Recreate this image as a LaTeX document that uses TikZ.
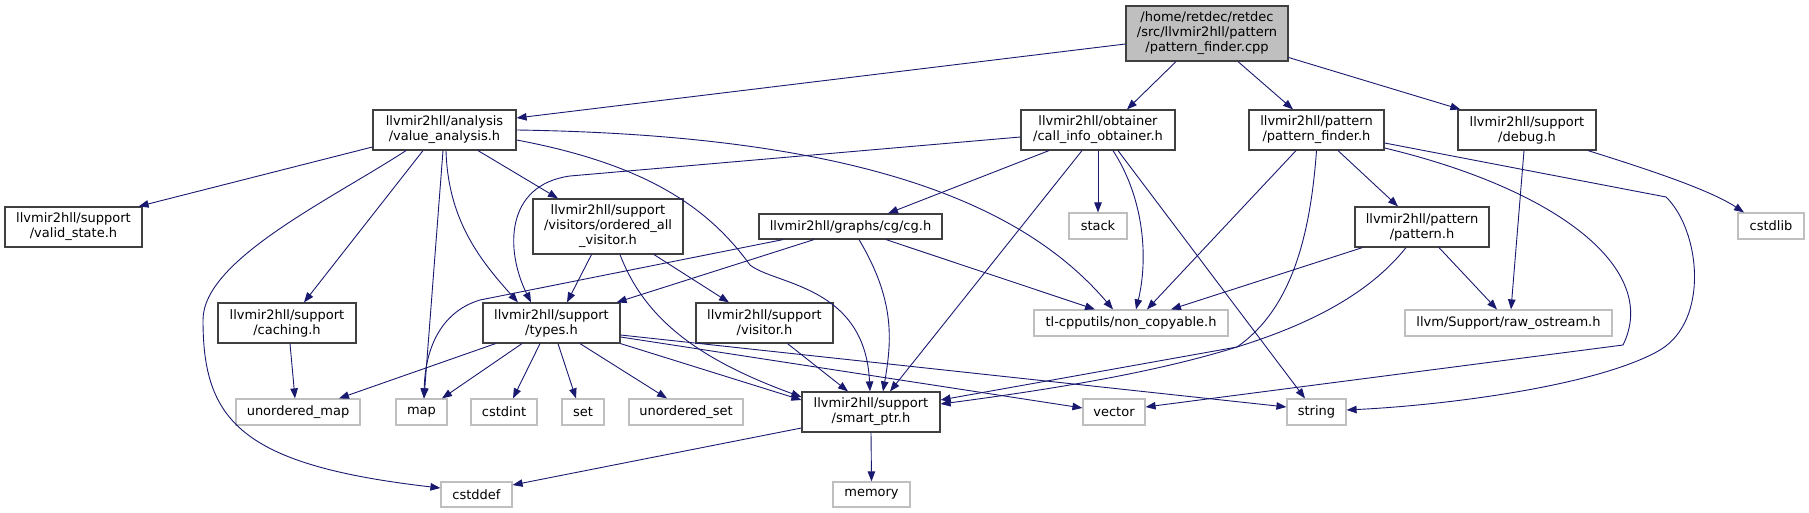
\documentclass[tikz,border=0pt]{standalone}
\usepackage{fontspec}
\setmainfont{DejaVu Sans}
\usetikzlibrary{arrows.meta}
\definecolor{edgeblue}{HTML}{191970}
\definecolor{extgray}{HTML}{BFBFBF}
\definecolor{rootfill}{HTML}{BFBFBF}
\definecolor{boxline}{HTML}{404040}
\tikzset{
 box/.style={draw=boxline, line width=1.2pt, fill=white, inner sep=0pt, align=center, font=\fontsize{13}{15}\selectfont, text=black},
 ext/.style={box, draw=extgray},
 e/.style={draw=edgeblue, line width=0.9pt, -{Triangle[length=10pt,width=7.5pt,fill=edgeblue]}},
}
\begin{document}
\begin{tikzpicture}[x=1pt,y=-1pt]
\useasboundingbox (0,0) rectangle (1809,513);
% nodes
\node[box, fill=rootfill, minimum width=162pt, minimum height=55pt] (root) at (1207,33.5) {/home/retdec/retdec\\/src/llvmir2hll/pattern\\/pattern\_finder.cpp};
\node[box, minimum width=143pt, minimum height=40pt] (va) at (444.5,130) {llvmir2hll/analysis\\/value\_analysis.h};
\node[box, minimum width=154pt, minimum height=40pt] (cio) at (1098,130) {llvmir2hll/obtainer\\/call\_info\_obtainer.h};
\node[box, minimum width=135pt, minimum height=40pt] (pfh) at (1316.5,130) {llvmir2hll/pattern\\/pattern\_finder.h};
\node[box, minimum width=138pt, minimum height=40pt] (debug) at (1527,130) {llvmir2hll/support\\/debug.h};
\node[box, minimum width=137pt, minimum height=40pt] (valid) at (73.5,227) {llvmir2hll/support\\/valid\_state.h};
\node[box, minimum width=150pt, minimum height=55pt] (oav) at (608,226.5) {llvmir2hll/support\\/visitors/ordered\_all\\\_visitor.h};
\node[box, minimum width=183pt, minimum height=25pt] (cg) at (850.5,226.5) {llvmir2hll/graphs/cg/cg.h};
\node[ext, minimum width=58pt, minimum height=26pt] (stack) at (1098,226) {stack};
\node[box, minimum width=134pt, minimum height=40pt] (pattern) at (1422,227) {llvmir2hll/pattern\\/pattern.h};
\node[ext, minimum width=66pt, minimum height=26pt] (cstdlib) at (1771,226) {cstdlib};
\node[box, minimum width=138pt, minimum height=40pt] (caching) at (287,323) {llvmir2hll/support\\/caching.h};
\node[box, minimum width=137pt, minimum height=40pt] (types) at (551.5,323) {llvmir2hll/support\\/types.h};
\node[box, minimum width=137pt, minimum height=40pt] (visitor) at (764.5,323) {llvmir2hll/support\\/visitor.h};
\node[ext, minimum width=194pt, minimum height=26pt] (noncopy) at (1131,323) {tl-cpputils/non\_copyable.h};
\node[ext, minimum width=207pt, minimum height=26pt] (raw) at (1508.5,323) {llvm/Support/raw\_ostream.h};
\node[ext, minimum width=124pt, minimum height=26pt] (umap) at (298,412) {unordered\_map};
\node[ext, minimum width=51pt, minimum height=26pt] (map) at (421.5,412) {map};
\node[ext, minimum width=66pt, minimum height=26pt] (cstdint) at (504,412) {cstdint};
\node[ext, minimum width=42pt, minimum height=26pt] (set) at (583,412) {set};
\node[ext, minimum width=114pt, minimum height=26pt] (uset) at (686,412) {unordered\_set};
\node[box, minimum width=138pt, minimum height=40pt] (smart) at (871,412) {llvmir2hll/support\\/smart\_ptr.h};
\node[ext, minimum width=62pt, minimum height=26pt] (vector) at (1114,412) {vector};
\node[ext, minimum width=59pt, minimum height=26pt] (string) at (1316.5,412) {string};
\node[ext, minimum width=71pt, minimum height=25pt] (cstddef) at (476.5,494.5) {cstddef};
\node[ext, minimum width=77pt, minimum height=25pt] (memory) at (871.5,494.5) {memory};
% root edges
\draw[e] ([yshift=-10.5pt]root.west) -- ([yshift=12pt]va.east);
\draw[e] ([xshift=-31pt]root.south) -- ([xshift=29pt]cio.north);
\draw[e] ([xshift=31pt]root.south) -- ([xshift=-23.5pt]pfh.north);
\draw[e] ([yshift=-24pt]root.east) -- ([xshift=3pt]debug.north west);
% value_analysis edges
\draw[e] ([yshift=-17pt]va.west) -- ([xshift=-4pt]valid.north east);
\draw[e] ([xshift=-38.5pt]va.south) .. controls (330,200) and (203,260) .. (203,320) .. controls (203,420) and (240,465) .. ([yshift=6.5pt]cstddef.west);
\draw[e] ([xshift=-21.5pt]va.south) -- ([xshift=17pt]caching.north);
\draw[e] ([xshift=-1.5pt]va.south) -- ([xshift=2.5pt]map.north);
\draw[e] ([xshift=1.5pt]va.south) .. controls (448,220) and (480,260) .. ([xshift=-33.5pt]types.north);
\draw[e] ([xshift=33.5pt]va.south) -- ([xshift=-50pt]oav.north);
\draw[e] (va.east) .. controls (850,135) and (1020,200) .. ([xshift=-18pt]noncopy.north);
\draw[e] ([yshift=-10pt]va.east) .. controls (650,165) and (710,210) .. (750,265) .. controls (775,285) and (865,285) .. ([xshift=-1pt]smart.north);
% call_info_obtainer edges
\draw[e] ([yshift=-7pt]cio.west) -- (570,176) .. controls (505,185) and (505,250) .. ([xshift=-20.5pt]types.north);
\draw[e] ([xshift=-49pt]cio.south) -- ([xshift=37.5pt]cg.north);
\draw[e] (cio.south) -- (stack.north);
\draw[e] ([xshift=-16pt]cio.south) -- ([xshift=19pt]smart.north);
\draw[e] ([xshift=15pt]cio.south) .. controls (1145,200) and (1148,260) .. ([xshift=5pt]noncopy.north);
\draw[e] ([xshift=20pt]cio.south) -- ([xshift=-11.5pt]string.north);
% pattern_finder.h edges
\draw[e] ([xshift=-20.5pt]pfh.south) -- ([xshift=16pt]noncopy.north);
\draw[e] (pfh.south) .. controls (1310,240) and (1290,310) .. (1237,347) -- ([yshift=12pt]smart.east);
\draw[e] ([xshift=21.5pt]pfh.south) -- ([xshift=-24pt]pattern.north);
\draw[e] ([yshift=-18pt]pfh.east) .. controls (1560,190) and (1660,270) .. (1623,345) -- ([yshift=5pt]vector.east);
\draw[e] ([yshift=-13pt]pfh.east) -- (1666,197) .. controls (1700,230) and (1710,320) .. (1660,350) .. controls (1600,385) and (1450,405) .. ([yshift=2pt]string.east);
% debug edges
\draw[e] ([xshift=-3pt]debug.south) -- ([xshift=2.5pt]raw.north);
\draw[e] ([xshift=61pt]debug.south) .. controls (1650,170) and (1710,190) .. ([xshift=-27pt]cstdlib.north);
% ordered_all_visitor edges
\draw[e] ([xshift=-16.5pt]oav.south) -- ([xshift=15.5pt]types.north);
\draw[e] ([xshift=12pt]oav.south) .. controls (645,320) and (700,360) .. ([yshift=15pt]smart.west);
\draw[e] ([xshift=46pt]oav.south) -- ([xshift=-35.5pt]visitor.north);
% cg edges
\draw[e] ([xshift=-67.5pt]cg.south) -- (480,300) .. controls (440,312) and (425,350) .. ([xshift=2.5pt]map.north);
\draw[e] ([xshift=-36.5pt]cg.south) -- ([xshift=-4pt]types.north east);
\draw[e] ([xshift=8.5pt]cg.south) .. controls (895,300) and (892,340) .. ([xshift=12pt]smart.north);
\draw[e] ([xshift=35.5pt]cg.south) -- ([xshift=-36pt]noncopy.north);
% types edges
\draw[e] ([xshift=-56pt]types.south) -- ([xshift=41pt]umap.north);
\draw[e] ([xshift=-29.5pt]types.south) -- ([xshift=20.5pt]map.north);
\draw[e] ([xshift=-11.5pt]types.south) -- ([xshift=9pt]cstdint.north);
\draw[e] ([xshift=6.5pt]types.south) -- ([xshift=-7pt]set.north);
\draw[e] ([xshift=28.5pt]types.south) -- ([xshift=-19pt]uset.north);
\draw[e] (types.south east) -- ([yshift=12pt]smart.west);
\draw[e] ([yshift=-14pt]types.east) -- ([yshift=4pt]vector.west);
\draw[e] ([yshift=-12pt]types.east) -- ([yshift=5pt]string.west);
% other edges
\draw[e] ([xshift=3pt]caching.south) -- ([xshift=-3pt]umap.north);
\draw[e] ([xshift=23pt]visitor.south) -- ([xshift=-23pt]smart.north);
\draw[e] ([yshift=-16pt]smart.west) -- ([yshift=9.5pt]cstddef.east);
\draw[e] (smart.south) -- (memory.north);
% pattern.h edges
\draw[e] ([xshift=-16pt]pattern.south) .. controls (1340,330) and (1200,370) .. ([yshift=8pt]smart.east);
\draw[e] ([xshift=8pt]pattern.south west) -- ([xshift=40pt]noncopy.north);
\draw[e] ([xshift=17pt]pattern.south) -- ([xshift=-11.5pt]raw.north);
\end{tikzpicture}
\end{document}
